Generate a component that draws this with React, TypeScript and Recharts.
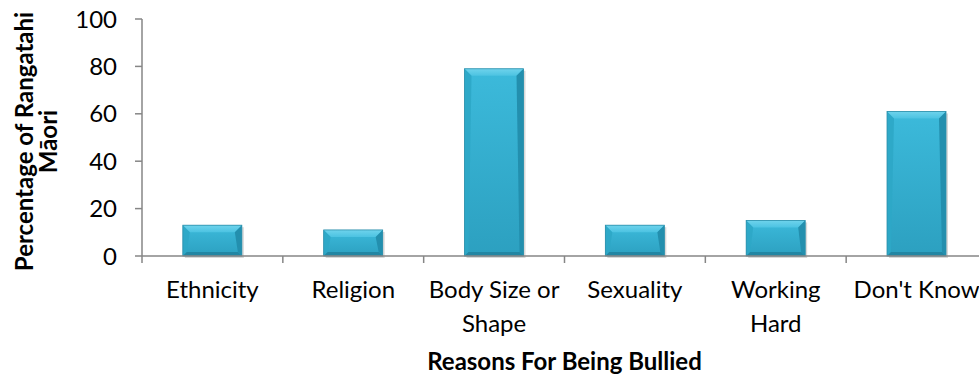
import { BarChart, Bar, XAxis, YAxis, Label } from "recharts";

const categories = ["Ethnicity", "Religion", "Body Size or\nShape", "Sexuality", "Working\nHard", "Don't Know"];
const percentages = [13, 11, 79, 13, 15, 61];
const yTicks = [0, 20, 40, 60, 80, 100];

const data = categories.map((name, i) => ({ name, value: percentages[i] }));

const FONT = "Lato, 'Liberation Sans', sans-serif";
const AXIS_COLOR = "#868686";

// bevelled bar, roughly like the office 3D style
function BevelBar(props: any) {
  const { x, y, width, height } = props;
  if (!height || height <= 0) return null;
  const b = Math.min(7, width / 4, height / 2);
  const s = Math.min(4, b);
  return (
    <g>
      <rect x={x + 2} y={y + 2} width={width} height={height} fill="rgba(0,0,0,0.15)" />
      <rect x={x} y={y} width={width} height={height} fill="url(#barFace)" />
      {/* top */}
      <polygon points={`${x},${y} ${x + width},${y} ${x + width - b},${y + b} ${x + b},${y + b}`} fill="url(#barTop)" />
      {/* left */}
      <polygon points={`${x},${y} ${x + b},${y + b} ${x + s},${y + height - s} ${x},${y + height}`} fill="#2ea7c7" opacity={0.9} />
      {/* right */}
      <polygon points={`${x + width},${y} ${x + width},${y + height} ${x + width - s},${y + height - s} ${x + width - b},${y + b}`} fill="#238fae" />
      {/* bottom */}
      <polygon points={`${x},${y + height} ${x + s},${y + height - s} ${x + width - s},${y + height - s} ${x + width},${y + height}`} fill="#2286a3" />
      <rect x={x} y={y} width={width} height={height} fill="none" stroke="#2b8eaa" strokeWidth={0.8} />
    </g>
  );
}

function CategoryTick(props: any) {
  const { x, y, payload, index } = props;
  const half = payload.offset ?? 70.5;
  const lines = String(payload.value).split("\n");
  return (
    <g>
      <line x1={x - half} y1={y} x2={x - half} y2={y + 7} stroke={AXIS_COLOR} strokeWidth={1.5} />
      {index === categories.length - 1 && (
        <line x1={x + half} y1={y} x2={x + half} y2={y + 7} stroke={AXIS_COLOR} strokeWidth={1.5} />
      )}
      <text x={x} y={y + 42} textAnchor="middle" fontFamily={FONT} fontSize={24} fill="#000">
        {lines.map((l, i) => (
          <tspan key={i} x={x} dy={i === 0 ? 0 : 33.5}>
            {l}
          </tspan>
        ))}
      </text>
    </g>
  );
}

function YTitle(props: any) {
  const { viewBox } = props;
  const cy = viewBox.y + viewBox.height / 2 + 4;
  return (
    <text transform={`rotate(-90, 0, ${cy})`} x={0} y={cy} textAnchor="middle" fontFamily={FONT} fontWeight="bold" fontSize={24} fill="#000">
      <tspan x={0} dy={33}>Percentage of Rangatahi</tspan>
      <tspan x={0} dy={24}>Māori</tspan>
    </text>
  );
}

export default function App() {
  return (
    <div style={{ position: "fixed", left: 0, top: 0, width: 979, height: 376, overflow: "hidden", background: "#fff" }}>
      <BarChart width={1000} height={376} data={data} margin={{ top: 19, right: 13, left: 0, bottom: 0 }} barCategoryGap="29%">
        <defs>
          <linearGradient id="barFace" x1="0" y1="0" x2="0" y2="1">
            <stop offset="0%" stopColor="#3cbadb" />
            <stop offset="100%" stopColor="#2ca0c0" />
          </linearGradient>
          <linearGradient id="barTop" x1="0" y1="0" x2="0" y2="1">
            <stop offset="0%" stopColor="#6fd3ec" />
            <stop offset="100%" stopColor="#4cc3e2" />
          </linearGradient>
        </defs>
        <XAxis
          dataKey="name"
          interval={0}
          tickLine={false}
          tickSize={0}
          tickMargin={0}
          height={120}
          stroke={AXIS_COLOR}
          strokeWidth={1.5}
          tick={<CategoryTick />}
        >
          <Label
            value="Reasons For Being Bullied"
            position="insideBottom"
            offset={6}
            style={{ fontFamily: FONT, fontWeight: "bold", fontSize: 24, fill: "#000" }}
          />
        </XAxis>
        <YAxis
          width={142}
          domain={[0, 100]}
          ticks={yTicks}
          interval={0}
          tickSize={7}
          tickMargin={18}
          stroke={AXIS_COLOR}
          strokeWidth={1.5}
          tick={{ fontFamily: FONT, fontSize: 24, fill: "#000" }}
          label={<YTitle />}
        />
        <Bar dataKey="value" shape={<BevelBar />} isAnimationActive={false} />
      </BarChart>
    </div>
  );
}
